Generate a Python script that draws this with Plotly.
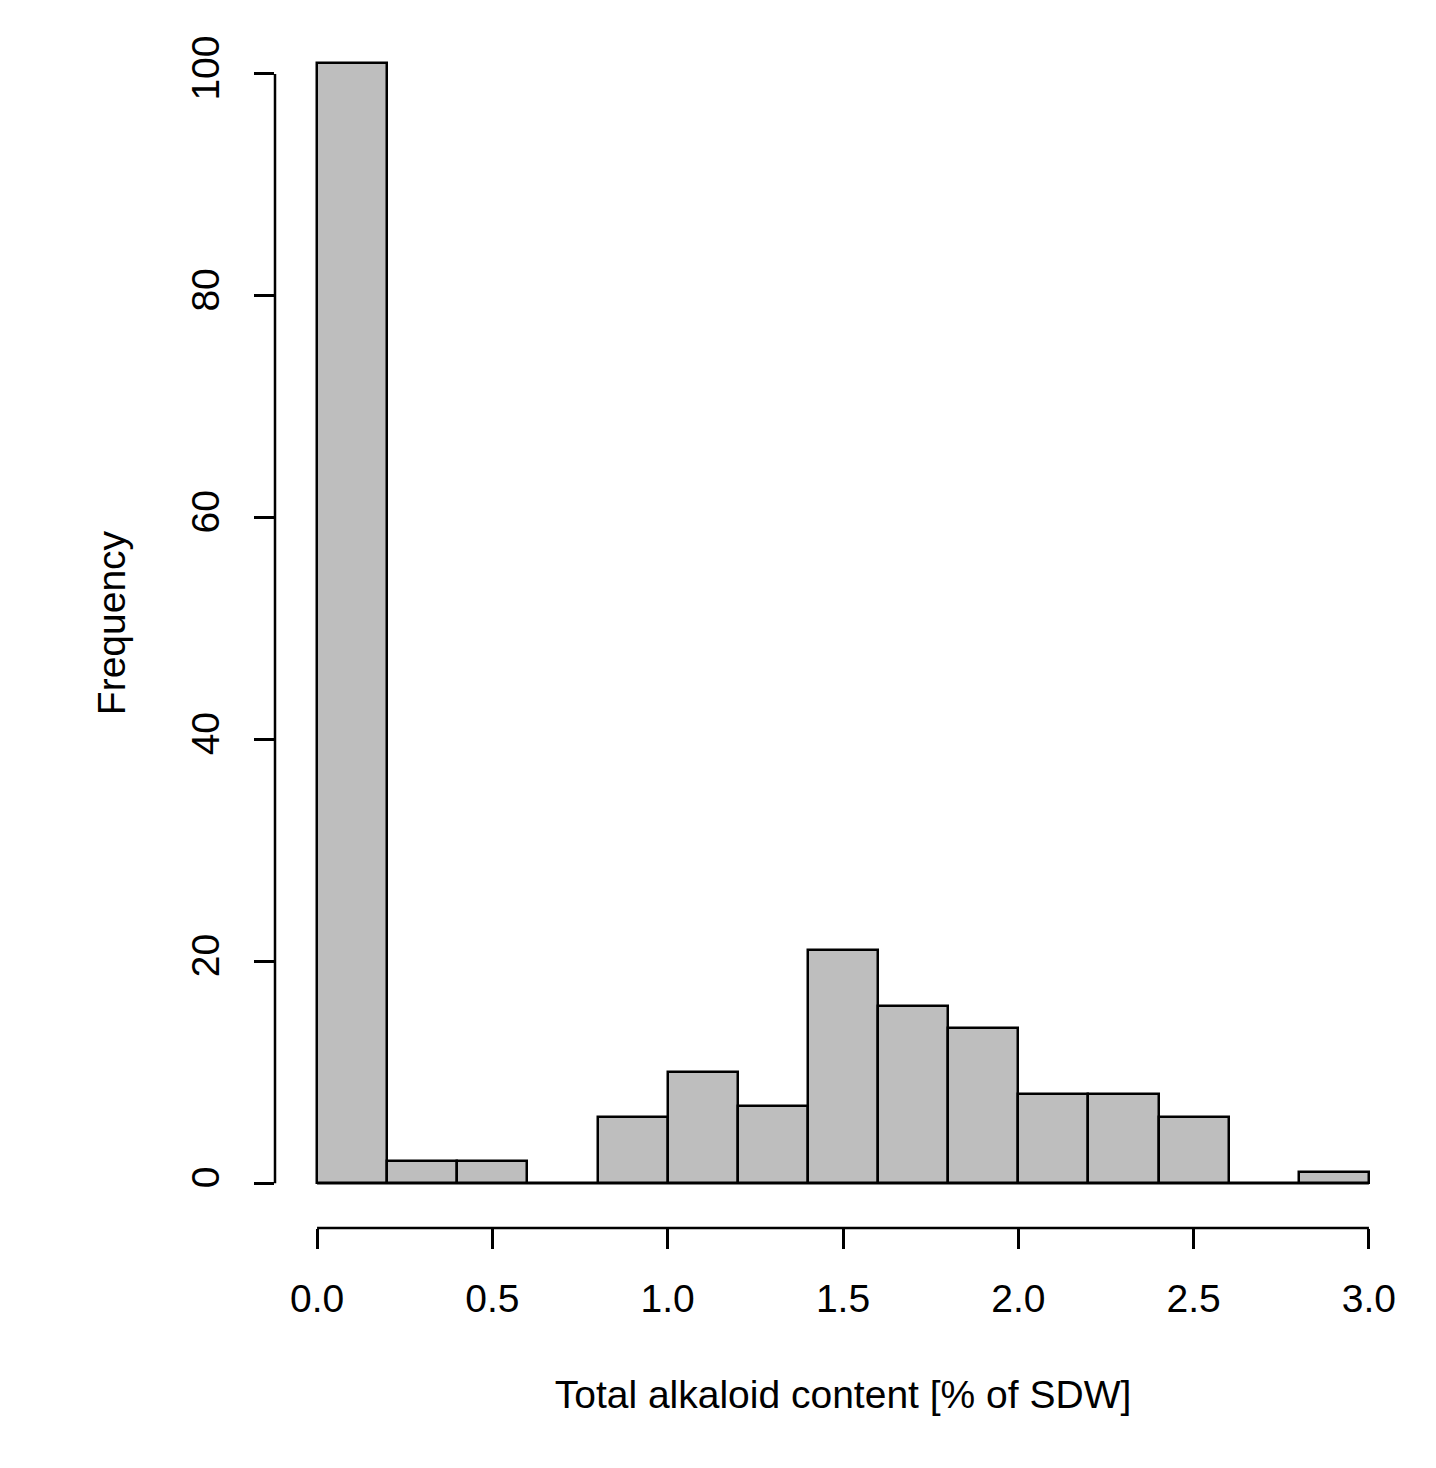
import plotly.graph_objects as go

# Histogram data (bin edges and counts)
bin_edges = [0.0, 0.2, 0.4, 0.6, 0.8, 1.0, 1.2, 1.4, 1.6, 1.8, 2.0, 2.2, 2.4, 2.6, 2.8, 3.0]
counts = [101, 2, 2, 0, 6, 10, 7, 21, 16, 14, 8, 8, 6, 0, 1]
x_ticks = [0.0, 0.5, 1.0, 1.5, 2.0, 2.5, 3.0]
y_ticks = [0, 20, 40, 60, 80, 100]
x_title = "Total alkaloid content [% of SDW]"
y_title = "Frequency"

centers = [(a + b) / 2 for a, b in zip(bin_edges[:-1], bin_edges[1:])]
widths = [b - a for a, b in zip(bin_edges[:-1], bin_edges[1:])]

# R-style 4% axis extension
xmin, xmax = bin_edges[0], bin_edges[-1]
ymin, ymax = 0, max(counts)
xpad = 0.04 * (xmax - xmin)
ypad = 0.04 * (ymax - ymin)

FONT = "Liberation Sans, Arial, sans-serif"
FS = 39
LW = 2.5

fig = go.Figure()
fig.add_trace(go.Bar(
    x=centers, y=counts, width=widths,
    marker=dict(color="#BEBEBE", line=dict(color="black", width=LW)),
    hoverinfo="x+y",
))

fig.update_layout(
    width=1428, height=1460,
    margin=dict(l=267, r=25, t=10, b=240),
    plot_bgcolor="white", paper_bgcolor="white",
    font=dict(family=FONT, size=FS, color="black"),
    showlegend=False,
    bargap=0,
    xaxis=dict(
        range=[xmin - xpad, xmax + xpad],
        tickvals=x_ticks, ticktext=[f"{v:.1f}" for v in x_ticks],
        ticks="outside", ticklen=20, tickwidth=LW, tickcolor="black",
        showgrid=False, zeroline=False, showline=False,
        ticklabelstandoff=16,
        title=dict(text=x_title, standoff=61, font=dict(size=FS)),
        automargin=False,
    ),
    yaxis=dict(
        range=[ymin - ypad, ymax + ypad],
        tickvals=y_ticks, ticktext=[str(v) for v in y_ticks],
        ticks="outside", ticklen=20, tickwidth=LW, tickcolor="black",
        tickangle=-90,
        showgrid=False, zeroline=False, showline=False,
        ticklabelstandoff=19,
        title=dict(text=y_title, standoff=46, font=dict(size=FS)),
        automargin=False,
    ),
    shapes=[
        # x axis line (spans first to last tick)
        dict(type="line", xref="x", yref="paper", x0=x_ticks[0], x1=x_ticks[-1], y0=0, y1=0,
             line=dict(color="black", width=LW)),
        # y axis line
        dict(type="line", xref="paper", yref="y", x0=0, x1=0, y0=y_ticks[0], y1=y_ticks[-1],
             line=dict(color="black", width=LW)),
        # histogram baseline (covers empty bins)
        dict(type="line", xref="x", yref="y", x0=bin_edges[0], x1=bin_edges[-1], y0=0, y1=0,
             line=dict(color="black", width=LW)),
    ],
)

fig.write_html("out.html")
